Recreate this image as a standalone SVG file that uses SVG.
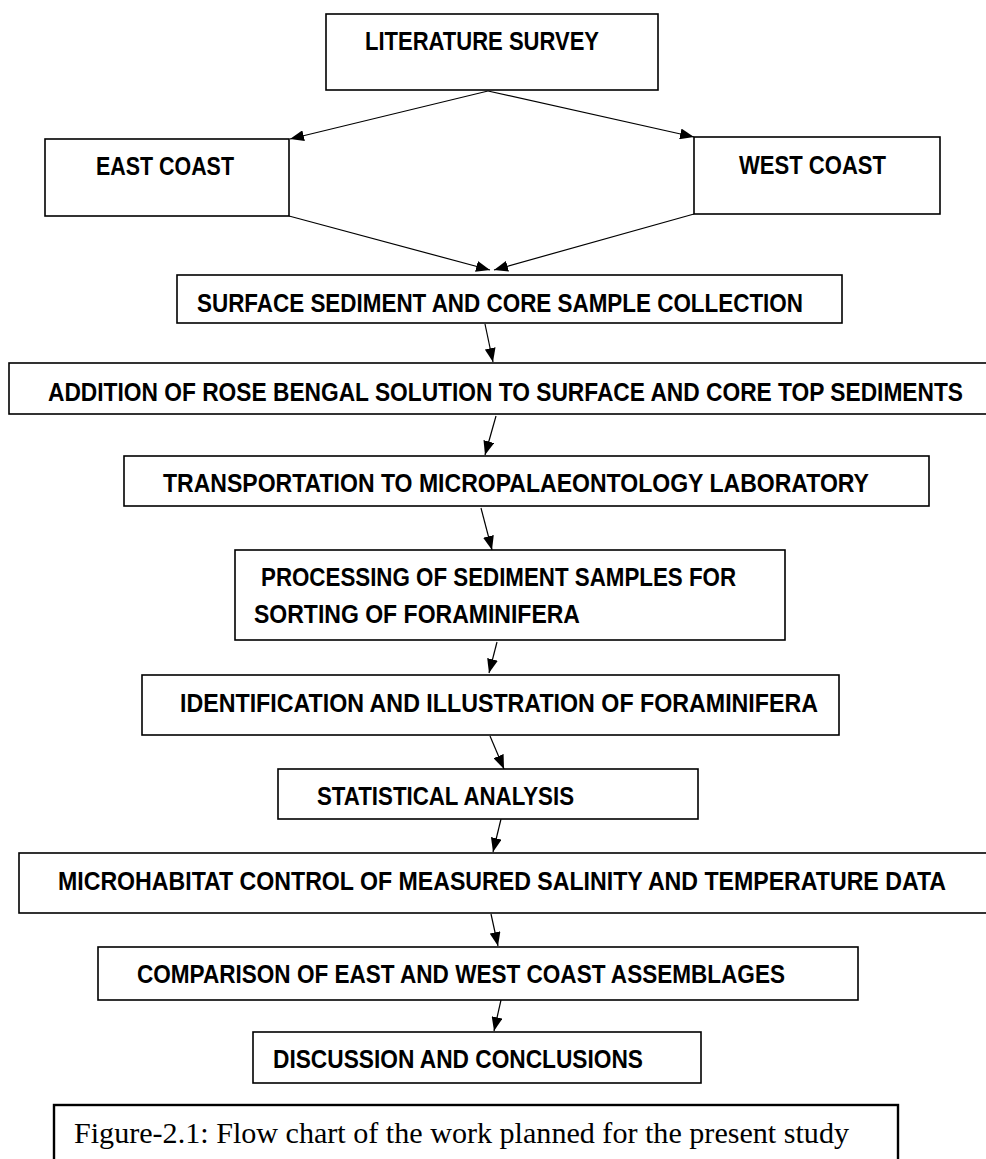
<svg xmlns="http://www.w3.org/2000/svg" width="986" height="1159" viewBox="0 0 986 1159">
<style>
.box{fill:#fff;stroke:#000;stroke-width:1.6}
.cap{fill:#fff;stroke:#000;stroke-width:2.4}
.t{font-family:"Liberation Sans",Arial,sans-serif;font-weight:bold;font-size:25px;fill:#000}
.c{font-family:"Liberation Serif","Times New Roman",serif;font-size:30px;fill:#000}
.e{stroke:#000;stroke-width:1.2;fill:none;marker-end:url(#ah)}
</style>
<defs>
<marker id="ah" markerUnits="userSpaceOnUse" markerWidth="15" markerHeight="11" refX="14" refY="5.5" orient="auto">
<path d="M0,0 L14,5.5 L0,11 z" fill="#000"/>
</marker>
</defs>
<rect width="986" height="1159" fill="#fff"/>
<g id="connectors">
<line class="e" x1="488" y1="91" x2="290" y2="139"/>
<line class="e" x1="488" y1="91" x2="694" y2="137"/>
<line class="e" x1="289" y1="216" x2="490" y2="270"/>
<line class="e" x1="694" y1="214" x2="494" y2="270"/>
<line class="e" x1="485" y1="324" x2="493" y2="362"/>
<line class="e" x1="496" y1="416" x2="485" y2="455"/>
<line class="e" x1="481" y1="508" x2="492" y2="550"/>
<line class="e" x1="497" y1="642" x2="489" y2="673"/>
<line class="e" x1="490" y1="736" x2="504" y2="769"/>
<line class="e" x1="501" y1="819" x2="493" y2="852"/>
<line class="e" x1="491" y1="914" x2="498" y2="946"/>
<line class="e" x1="501" y1="1000" x2="494" y2="1031"/>
</g>
<g id="literature">
<rect class="box" x="326" y="14" width="332" height="76"/>
<text class="t" transform="translate(365,50) scale(0.9,1)" textLength="260" lengthAdjust="spacingAndGlyphs">LITERATURE SURVEY</text>
</g>
<g id="east">
<rect class="box" x="45" y="139" width="244" height="77"/>
<text class="t" transform="translate(96,175) scale(0.9,1)" textLength="153.3" lengthAdjust="spacingAndGlyphs">EAST COAST</text>
</g>
<g id="west">
<rect class="box" x="694" y="137" width="246" height="77"/>
<text class="t" transform="translate(739,174) scale(0.9,1)" textLength="163.3" lengthAdjust="spacingAndGlyphs">WEST COAST</text>
</g>
<g id="surface">
<rect class="box" x="177" y="275" width="665" height="48"/>
<text class="t" transform="translate(197,312) scale(0.9,1)" textLength="673.3" lengthAdjust="spacingAndGlyphs">SURFACE SEDIMENT AND CORE SAMPLE COLLECTION</text>
</g>
<g id="addition">
<rect class="box" x="9" y="363" width="990" height="51"/>
<text class="t" transform="translate(48,401) scale(0.9,1)" textLength="1016.7" lengthAdjust="spacingAndGlyphs">ADDITION OF ROSE BENGAL SOLUTION TO SURFACE AND CORE TOP SEDIMENTS</text>
</g>
<g id="transport">
<rect class="box" x="124" y="456" width="805" height="50"/>
<text class="t" transform="translate(163,492) scale(0.9,1)" textLength="784.4" lengthAdjust="spacingAndGlyphs">TRANSPORTATION TO MICROPALAEONTOLOGY LABORATORY</text>
</g>
<g id="processing">
<rect class="box" x="235" y="550" width="550" height="90"/>
<text class="t" transform="translate(261,586) scale(0.9,1)" textLength="527.8" lengthAdjust="spacingAndGlyphs">PROCESSING OF SEDIMENT SAMPLES FOR</text>
<text class="t" transform="translate(254,623) scale(0.9,1)" textLength="362.2" lengthAdjust="spacingAndGlyphs">SORTING OF FORAMINIFERA</text>
</g>
<g id="identification">
<rect class="box" x="142" y="675" width="697" height="60"/>
<text class="t" transform="translate(180,712) scale(0.9,1)" textLength="708.9" lengthAdjust="spacingAndGlyphs">IDENTIFICATION AND ILLUSTRATION OF FORAMINIFERA</text>
</g>
<g id="statistical">
<rect class="box" x="278" y="769" width="420" height="50"/>
<text class="t" transform="translate(317,805) scale(0.9,1)" textLength="285.6" lengthAdjust="spacingAndGlyphs">STATISTICAL ANALYSIS</text>
</g>
<g id="microhabitat">
<rect class="box" x="19" y="853" width="980" height="60"/>
<text class="t" transform="translate(58,890) scale(0.9,1)" textLength="986.7" lengthAdjust="spacingAndGlyphs">MICROHABITAT CONTROL OF MEASURED SALINITY AND TEMPERATURE DATA</text>
</g>
<g id="comparison">
<rect class="box" x="98" y="947" width="760" height="53"/>
<text class="t" transform="translate(137,983) scale(0.9,1)" textLength="720" lengthAdjust="spacingAndGlyphs">COMPARISON OF EAST AND WEST COAST ASSEMBLAGES</text>
</g>
<g id="discussion">
<rect class="box" x="253" y="1032" width="448" height="51"/>
<text class="t" transform="translate(273,1068) scale(0.9,1)" textLength="411.1" lengthAdjust="spacingAndGlyphs">DISCUSSION AND CONCLUSIONS</text>
</g>
<g id="caption">
<rect class="cap" x="54" y="1105" width="844" height="70"/>
<text class="c" x="74" y="1143" textLength="775" lengthAdjust="spacingAndGlyphs">Figure-2.1: Flow chart of the work planned for the present study</text>
</g>
</svg>
